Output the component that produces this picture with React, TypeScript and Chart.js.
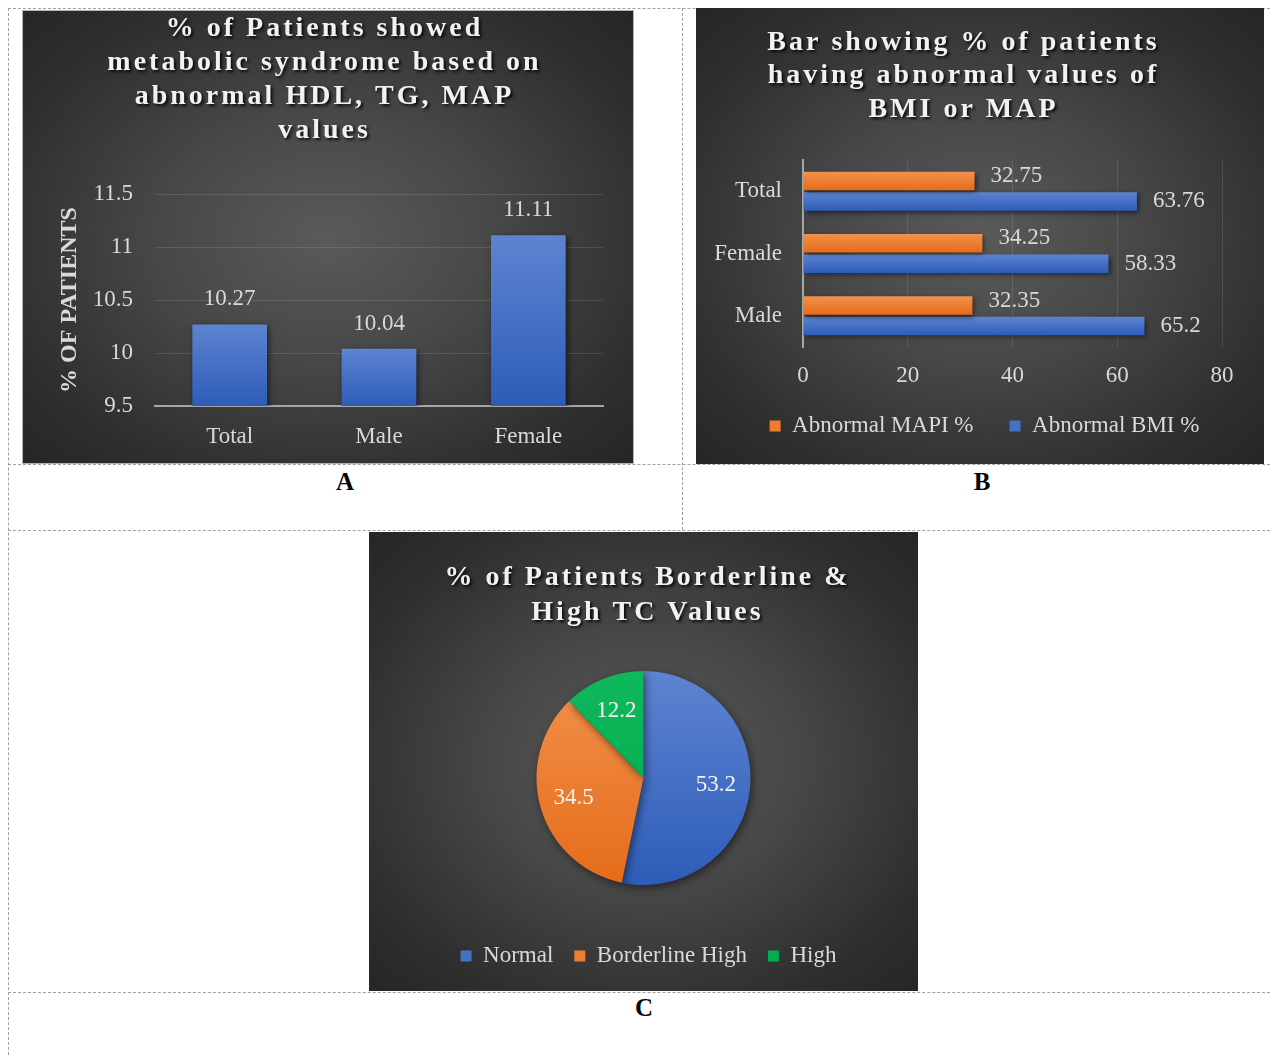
import React, { useEffect, useRef } from 'react';
import { Chart, registerables } from 'chart.js';

Chart.register(...registerables);

const FONT = '"Liberation Serif", "Times New Roman", Times, serif';
const TEXT = '#d9d9d9';
const TITLE_COLOR = '#f2f2f2';
const GRID = 'rgba(255,255,255,0.11)';
const AXIS = '#a6a6a6';

// ---------- Chart A data ----------
const A_TITLE = ['% of Patients showed', 'metabolic syndrome based on', 'abnormal HDL, TG, MAP', 'values'];
const A_CATEGORIES = ['Total', 'Male', 'Female'];
const A_VALUES = [10.27, 10.04, 11.11];
const A_Y_TICKS = [9.5, 10, 10.5, 11, 11.5];
const A_Y_TITLE = '% OF PATIENTS';

// ---------- Chart B data ----------
const B_TITLE = ['Bar showing % of patients', 'having abnormal values of', 'BMI or MAP'];
const B_CATEGORIES = ['Total', 'Female', 'Male'];
const B_SERIES = ['Abnormal MAPI %', 'Abnormal BMI %'];
const B_MAPI = [32.75, 34.25, 32.35];
const B_BMI = [63.76, 58.33, 65.2];
const B_X_TICKS = [0, 20, 40, 60, 80];

// ---------- Chart C data ----------
const C_TITLE = ['% of Patients Borderline &', 'High TC Values'];
const C_CATEGORIES = ['Normal', 'Borderline High', 'High'];
const C_VALUES = [53.2, 34.5, 12.2];

// colours (light top, dark bottom)
const BLUE = ['#5d84d1', '#2d5cb8'];
const ORANGE = ['#f3914d', '#e46c19'];
const GREEN = ['#0fb85c', '#00a84a'];
const BLUE_SOLID = '#4472c4';
const ORANGE_SOLID = '#ed7d31';
const GREEN_SOLID = '#00b050';

function grad(ctx: any, y0: number, y1: number, c: string[], solid: string) {
  if (!ctx || !Number.isFinite(y0) || !Number.isFinite(y1) || y0 === y1) return solid;
  const g = ctx.createLinearGradient(0, y0, 0, y1);
  g.addColorStop(0, c[0]);
  g.addColorStop(1, c[1]);
  return g;
}

function titleStyle(dx: number) {
  return {
    id: 'titleStyle',
    beforeDraw(chart: any) {
      const tb = chart.titleBlock;
      if (!tb || tb.__styled) return;
      const orig = tb.draw;
      tb.draw = function (...args: any[]) {
        const ctx = chart.ctx;
        ctx.save();
        ctx.translate(dx, 0);
        ctx.letterSpacing = '3px';
        ctx.shadowColor = 'rgba(0,0,0,0.85)';
        ctx.shadowBlur = 3;
        ctx.shadowOffsetX = 2;
        ctx.shadowOffsetY = 2;
        orig.apply(tb, args);
        ctx.restore();
      };
      tb.__styled = true;
    },
  };
}

function shiftLegend(dx: number, dy: number) {
  return {
    id: 'shiftLegend',
    beforeDraw(chart: any) {
      const lg = chart.legend;
      if (!lg || lg.__shifted) return;
      const orig = lg.draw;
      lg.draw = function (...args: any[]) {
        const ctx = chart.ctx;
        ctx.save();
        ctx.translate(dx, dy);
        orig.apply(lg, args);
        ctx.restore();
      };
      lg.__shifted = true;
    },
  };
}

function shadow(blur: number, ox: number, oy: number, color: string) {
  return {
    id: 'markShadow',
    beforeDatasetsDraw(chart: any) {
      const c = chart.ctx;
      c.save();
      c.shadowColor = color;
      c.shadowBlur = blur;
      c.shadowOffsetX = ox;
      c.shadowOffsetY = oy;
    },
    afterDatasetsDraw(chart: any) {
      chart.ctx.restore();
    },
  };
}

const titleFont = (lh: number) => ({ family: FONT, size: 28, weight: 'bold' as const, lineHeight: lh / 28 });
const tickFont = { family: FONT, size: 23 };

function configA(): any {
  return {
    type: 'bar',
    data: {
      labels: A_CATEGORIES,
      datasets: [
        {
          label: 'A',
          data: A_VALUES,
          backgroundColor: (c: any) => {
            const ch = c.chart;
            const ys = ch.scales && ch.scales.y;
            if (!ys || c.type !== 'data' || c.raw == null) return BLUE_SOLID;
            return grad(ch.ctx, ys.getPixelForValue(c.raw), ys.bottom, BLUE, BLUE_SOLID);
          },
          borderWidth: 0,
          barPercentage: 0.5,
          categoryPercentage: 1,
        },
      ],
    },
    options: {
      responsive: false,
      animation: false,
      layout: { padding: { top: 0, right: 30, bottom: 0, left: 23 } },
      plugins: {
        legend: { display: false },
        tooltip: { enabled: false },
        title: {
          display: true,
          text: A_TITLE,
          color: TITLE_COLOR,
          font: titleFont(34),
          padding: { top: 1, bottom: 46 },
        },
      },
      scales: {
        x: {
          grid: { display: false, drawTicks: false },
          border: { display: true, color: AXIS, width: 2 },
          ticks: { color: TEXT, font: tickFont, padding: 17 },
          afterFit: (s: any) => {
            s.height = 57;
          },
        },
        y: {
          min: 9.5,
          max: 11.5,
          afterBuildTicks: (s: any) => {
            s.ticks = A_Y_TICKS.map((v) => ({ value: v }));
          },
          ticks: { color: TEXT, font: tickFont, padding: 22, callback: (v: any) => String(v) },
          grid: { color: GRID, drawTicks: false, lineWidth: 1 },
          border: { display: false },
          title: {
            display: true,
            text: A_Y_TITLE,
            color: TEXT,
            font: { family: FONT, size: 24, weight: 'bold' },
            padding: { top: 9.6, bottom: 0 },
          },
          afterFit: (s: any) => {
            s.width = 109;
          },
        },
      },
    },
    plugins: [
      titleStyle(0),
      shadow(6, 2, 2, 'rgba(0,0,0,0.55)'),
      {
        id: 'labelsA',
        afterDatasetsDraw(chart: any) {
          const ctx = chart.ctx;
          ctx.save();
          ctx.font = `23px ${FONT}`;
          ctx.fillStyle = TEXT;
          ctx.textAlign = 'center';
          ctx.textBaseline = 'middle';
          chart.getDatasetMeta(0).data.forEach((el: any, i: number) => {
            ctx.fillText(String(A_VALUES[i]), el.x, el.y - 25);
          });
          ctx.restore();
        },
      },
    ],
  };
}

const B_CAT_PCT = 0.66;
const B_BAR_PCT = 0.9;

function hBarBg(colors: string[], solid: string, dsIndex: number) {
  return (c: any) => {
    const ch = c.chart;
    const ys = ch.scales && ch.scales.y;
    if (!ys || c.type !== 'data') return solid;
    const cat = (ys.bottom - ys.top) / B_CATEGORIES.length;
    const slot = (cat * B_CAT_PCT) / 2;
    const center = ys.getPixelForValue(c.dataIndex) + (dsIndex - 0.5) * slot;
    const half = (slot * B_BAR_PCT) / 2;
    return grad(ch.ctx, center - half, center + half, colors, solid);
  };
}

function configB(): any {
  const solids = [ORANGE_SOLID, BLUE_SOLID];
  return {
    type: 'bar',
    data: {
      labels: B_CATEGORIES,
      datasets: [
        {
          label: B_SERIES[0],
          data: B_MAPI,
          backgroundColor: hBarBg(ORANGE, ORANGE_SOLID, 0),
          borderWidth: 0,
          categoryPercentage: B_CAT_PCT,
          barPercentage: B_BAR_PCT,
        },
        {
          label: B_SERIES[1],
          data: B_BMI,
          backgroundColor: hBarBg(BLUE, BLUE_SOLID, 1),
          borderWidth: 0,
          categoryPercentage: B_CAT_PCT,
          barPercentage: B_BAR_PCT,
        },
      ],
    },
    options: {
      indexAxis: 'y',
      responsive: false,
      animation: false,
      layout: { padding: { top: 0, right: 42, bottom: 4, left: 9 } },
      plugins: {
        tooltip: { enabled: false },
        title: {
          display: true,
          text: B_TITLE,
          color: TITLE_COLOR,
          font: titleFont(33.5),
          padding: { top: 18, bottom: 33.5 },
        },
        legend: {
          position: 'bottom',
          labels: {
            color: TEXT,
            font: tickFont,
            boxWidth: 11,
            boxHeight: 11,
            padding: 36,
            generateLabels: (chart: any) =>
              chart.data.datasets.map((ds: any, i: number) => ({
                text: ds.label,
                fillStyle: solids[i],
                strokeStyle: solids[i],
                lineWidth: 0,
                hidden: false,
                datasetIndex: i,
                fontColor: TEXT,
              })),
          },
        },
      },
      scales: {
        x: {
          min: 0,
          max: 80,
          afterBuildTicks: (s: any) => {
            s.ticks = B_X_TICKS.map((v) => ({ value: v }));
          },
          ticks: { color: TEXT, font: tickFont, padding: 15, callback: (v: any) => String(v) },
          grid: { color: GRID, drawTicks: false },
          border: { display: false },
          afterFit: (s: any) => {
            s.height = 44;
          },
        },
        y: {
          grid: { display: false, drawTicks: false },
          border: { display: true, color: AXIS, width: 2 },
          ticks: { color: TEXT, font: tickFont, padding: 21 },
          afterFit: (s: any) => {
            s.width = 98;
          },
        },
      },
    },
    plugins: [
      titleStyle(0),
      shiftLegend(21, -12.5),
      shadow(5, 2, 2, 'rgba(0,0,0,0.55)'),
      {
        id: 'labelsB',
        afterDatasetsDraw(chart: any) {
          const ctx = chart.ctx;
          ctx.save();
          ctx.font = `23px ${FONT}`;
          ctx.fillStyle = TEXT;
          ctx.textAlign = 'left';
          ctx.textBaseline = 'middle';
          [B_MAPI, B_BMI].forEach((vals, d) => {
            chart.getDatasetMeta(d).data.forEach((el: any, i: number) => {
              ctx.fillText(String(vals[i]), el.x + 16, el.y + (d === 0 ? -5 : 0));
            });
          });
          ctx.restore();
        },
      },
    ],
  };
}

const C_RADIUS = 107;

function configC(): any {
  const grads = [BLUE, ORANGE, GREEN];
  const solids = [BLUE_SOLID, ORANGE_SOLID, GREEN_SOLID];
  return {
    type: 'pie',
    data: {
      labels: C_CATEGORIES,
      datasets: [
        {
          data: C_VALUES,
          backgroundColor: (c: any) => {
            const ch = c.chart;
            const a = ch.chartArea;
            const i = c.dataIndex || 0;
            if (!a || c.type !== 'data') return solids[i];
            const cy = (a.top + a.bottom) / 2;
            return grad(ch.ctx, cy - C_RADIUS, cy + C_RADIUS, grads[i], solids[i]);
          },
          borderWidth: 0,
          radius: C_RADIUS,
        },
      ],
    },
    options: {
      responsive: false,
      animation: false,
      radius: C_RADIUS,
      layout: { padding: { top: 0, right: 0, bottom: 14.5, left: 0 } },
      plugins: {
        tooltip: { enabled: false },
        title: {
          display: true,
          text: C_TITLE,
          color: TITLE_COLOR,
          font: titleFont(35),
          padding: { top: 28.5, bottom: 3 },
        },
        legend: {
          position: 'bottom',
          labels: {
            color: TEXT,
            font: tickFont,
            boxWidth: 11,
            boxHeight: 11,
            padding: 21,
            generateLabels: (chart: any) =>
              chart.data.labels.map((l: string, i: number) => ({
                text: l,
                fillStyle: solids[i],
                strokeStyle: solids[i],
                lineWidth: 0,
                hidden: false,
                index: i,
                fontColor: TEXT,
              })),
          },
        },
      },
    },
    plugins: [
      titleStyle(4),
      shiftLegend(5, 1),
      shadow(8, 2, 3, 'rgba(0,0,0,0.5)'),
      {
        id: 'labelsC',
        afterDatasetsDraw(chart: any) {
          const ctx = chart.ctx;
          ctx.save();
          ctx.font = `23px ${FONT}`;
          ctx.fillStyle = TITLE_COLOR;
          ctx.textAlign = 'center';
          ctx.textBaseline = 'middle';
          chart.getDatasetMeta(0).data.forEach((arc: any, i: number) => {
            const p = arc.getProps(['x', 'y', 'startAngle', 'endAngle', 'outerRadius'], true);
            const mid = (p.startAngle + p.endAngle) / 2;
            const r = p.outerRadius * 0.68;
            ctx.fillText(String(C_VALUES[i]), p.x + Math.cos(mid) * r, p.y + Math.sin(mid) * r);
          });
          ctx.restore();
        },
      },
    ],
  };
}

function ChartCanvas({ make, width, height }: { make: () => any; width: number; height: number }) {
  const ref = useRef<HTMLCanvasElement>(null);
  useEffect(() => {
    let chart: any = null;
    try {
      chart = new Chart(ref.current as HTMLCanvasElement, make());
    } catch (e) {
      console.error(e);
    }
    return () => {
      if (chart) chart.destroy();
    };
  }, []);
  return <canvas ref={ref} width={width} height={height} style={{ display: 'block', width, height }} />;
}

const PANEL_BG = 'radial-gradient(ellipse at 50% 50%, #5a5a5a 0%, #474747 40%, #2e2e2e 80%, #262626 100%)';

function HLine({ y, x0 = 8, x1 = 1270 }: { y: number; x0?: number; x1?: number }) {
  return <div style={{ position: 'absolute', left: x0, top: y, width: x1 - x0, height: 0, borderTop: '1px dashed #a0a0a0' }} />;
}
function VLine({ x, y0, y1 }: { x: number; y0: number; y1: number }) {
  return <div style={{ position: 'absolute', left: x, top: y0, width: 0, height: y1 - y0, borderLeft: '1px dashed #a0a0a0' }} />;
}
function Letter({ t, cx, cy }: { t: string; cx: number; cy: number }) {
  return (
    <div
      style={{
        position: 'absolute',
        left: cx - 40,
        top: cy - 15,
        width: 80,
        height: 30,
        lineHeight: '30px',
        textAlign: 'center',
        fontFamily: FONT,
        fontWeight: 'bold',
        fontSize: 25,
        color: '#000',
      }}
    >
      {t}
    </div>
  );
}

export default function App() {
  return (
    <div style={{ position: 'absolute', left: 0, top: 0, width: 1270, height: 1055, background: '#fff', overflow: 'hidden' }}>
      <HLine y={8} />
      <HLine y={464} />
      <HLine y={530} />
      <HLine y={992} />
      <VLine x={8} y0={8} y1={1055} />
      <VLine x={682} y0={8} y1={530} />

      <div
        style={{
          position: 'absolute',
          left: 22,
          top: 10,
          width: 612,
          height: 454,
          boxSizing: 'border-box',
          border: '1px solid #b4b4b4',
          background: PANEL_BG,
        }}
      >
        <ChartCanvas make={configA} width={610} height={452} />
      </div>

      <div style={{ position: 'absolute', left: 696, top: 8, width: 568, height: 456, background: PANEL_BG }}>
        <ChartCanvas make={configB} width={568} height={456} />
      </div>

      <div style={{ position: 'absolute', left: 369, top: 532, width: 549, height: 459, background: PANEL_BG }}>
        <ChartCanvas make={configC} width={549} height={459} />
      </div>

      <Letter t="A" cx={345} cy={482} />
      <Letter t="B" cx={982} cy={482} />
      <Letter t="C" cx={644} cy={1008} />
    </div>
  );
}
